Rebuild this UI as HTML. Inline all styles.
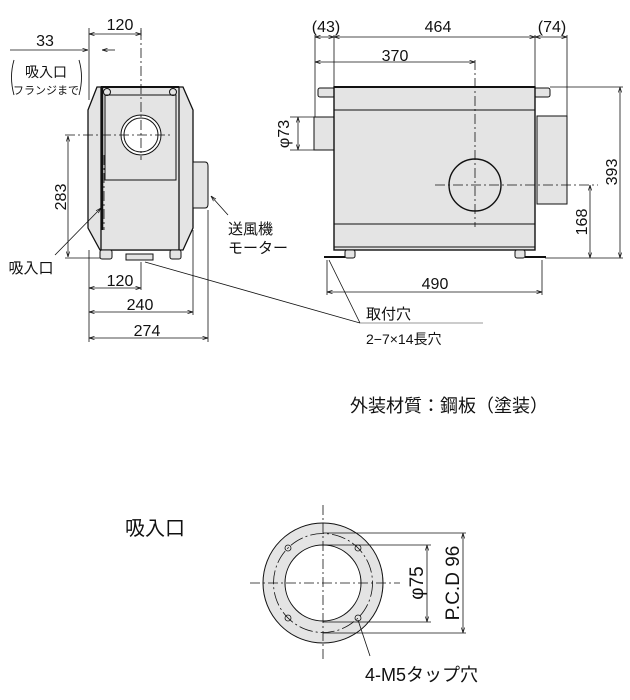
<!DOCTYPE html>
<html><head><meta charset="utf-8"><style>
html,body{margin:0;padding:0;background:#fff;}
svg{display:block;}
text{font-family:"Liberation Sans","Noto Sans CJK JP",sans-serif;fill:#111;}
</style></head><body>
<svg width="630" height="700" viewBox="0 0 630 700" xmlns="http://www.w3.org/2000/svg">
<defs>
<marker id="a" viewBox="0 0 10 10" refX="10" refY="5" markerWidth="7" markerHeight="7" orient="auto-start-reverse"><path d="M0,2 L10,5 L0,8" fill="none" stroke="#111" stroke-width="1.2"/></marker>
</defs>
<g stroke="#111" stroke-width="1" fill="none">
<path d="M97,87 L183,87 L193,110 L193,228 L183,250 L100,250 L88,228 L88,110 Z" fill="#e4e4e4" stroke-width="1.3"/>
<path d="M193,162 L205,162 Q208,162 208,166 L208,204 Q208,208 205,208 L193,208 Z" fill="#e4e4e4"/>
<rect x="101" y="87" width="78" height="163" fill="#e4e4e4" stroke-width="1.3"/>
<rect x="105" y="95" width="71" height="85"/>
<line x1="102" y1="87" x2="102" y2="230" stroke-width="2.5"/>
<line x1="101" y1="87" x2="179" y2="87" stroke-width="2"/>
<circle cx="107" cy="92" r="3.5"/><circle cx="173" cy="92" r="3.5"/>
<circle cx="141" cy="135" r="20" fill="#fff"/><circle cx="141" cy="135" r="17"/>
<rect x="100" y="250" width="12" height="9" rx="2" fill="#e4e4e4"/>
<rect x="170" y="250" width="11" height="9" rx="2" fill="#e4e4e4"/>
<rect x="126" y="254" width="27" height="6" fill="#e4e4e4"/>
<g stroke-width="0.8" stroke-dasharray="10,3,2,3">
<line x1="141" y1="30" x2="141" y2="160"/><line x1="65" y1="135" x2="170" y2="135"/>
<line x1="104" y1="155" x2="104" y2="230"/>
</g>
<g stroke-width="0.8">
<line x1="89" y1="28" x2="89" y2="100"/><line x1="141" y1="28" x2="141" y2="36"/>
<line x1="89" y1="34" x2="141" y2="34" marker-start="url(#a)" marker-end="url(#a)"/>
<line x1="10" y1="50" x2="88" y2="50" marker-end="url(#a)"/>
<line x1="115" y1="50" x2="102" y2="50" marker-end="url(#a)"/>
<line x1="68" y1="136" x2="68" y2="257" marker-start="url(#a)" marker-end="url(#a)"/>
<line x1="65" y1="258" x2="100" y2="258"/>
<line x1="89" y1="250" x2="89" y2="342"/><line x1="141" y1="262" x2="141" y2="290"/>
<line x1="193" y1="230" x2="193" y2="315"/><line x1="208" y1="210" x2="208" y2="342"/>
<line x1="89" y1="288" x2="141" y2="288" marker-start="url(#a)" marker-end="url(#a)"/>
<line x1="89" y1="312" x2="193" y2="312" marker-start="url(#a)" marker-end="url(#a)"/>
<line x1="89" y1="338" x2="208" y2="338" marker-start="url(#a)" marker-end="url(#a)"/>
<line x1="55" y1="255" x2="101" y2="208" marker-end="url(#a)"/>
<line x1="228" y1="215" x2="211" y2="196" marker-end="url(#a)"/>
<line x1="145" y1="262" x2="360" y2="323"/>
<line x1="329" y1="260" x2="360" y2="323"/>
<line x1="360" y1="323" x2="483" y2="323" stroke="#777"/>
</g>
<path d="M14,60 Q9,77 14,95" stroke-width="0.9"/><path d="M79,60 Q84,77 79,95" stroke-width="0.9"/>
<rect x="318" y="88" width="17" height="9" rx="2" fill="#e4e4e4"/>
<rect x="534" y="88" width="16" height="9" rx="2" fill="#e4e4e4"/>
<rect x="314" y="117" width="20" height="33" fill="#e4e4e4"/>
<rect x="537" y="116" width="30" height="88" fill="#e4e4e4"/>
<rect x="334" y="87" width="201" height="163" fill="#e4e4e4" stroke-width="1.4"/>
<line x1="334" y1="87" x2="535" y2="87" stroke-width="2"/>
<line x1="334" y1="110" x2="535" y2="110"/>
<line x1="334" y1="224" x2="535" y2="224"/>
<line x1="334" y1="247" x2="535" y2="247"/>
<circle cx="475" cy="185" r="26" stroke-width="1.4"/>
<rect x="345" y="250" width="10" height="8" rx="2" fill="#e4e4e4"/>
<rect x="515" y="250" width="10" height="8" rx="2" fill="#e4e4e4"/>
<line x1="324" y1="257" x2="345" y2="257" stroke-width="2"/>
<line x1="525" y1="257" x2="546" y2="257" stroke-width="2"/>
<g stroke-width="0.8" stroke-dasharray="10,3,2,3">
<line x1="475" y1="60" x2="475" y2="227"/><line x1="435" y1="185" x2="598" y2="185"/>
</g>
<g stroke-width="0.8">
<line x1="315" y1="35" x2="315" y2="117"/><line x1="334" y1="35" x2="334" y2="87"/>
<line x1="535" y1="35" x2="535" y2="87"/><line x1="567" y1="35" x2="567" y2="116"/>
<line x1="315" y1="37" x2="334" y2="37" marker-start="url(#a)" marker-end="url(#a)"/>
<line x1="334" y1="37" x2="535" y2="37" marker-start="url(#a)" marker-end="url(#a)"/>
<line x1="535" y1="37" x2="567" y2="37" marker-start="url(#a)" marker-end="url(#a)"/>
<line x1="315" y1="62" x2="475" y2="62" marker-start="url(#a)" marker-end="url(#a)"/>
<line x1="290" y1="117" x2="314" y2="117"/><line x1="290" y1="150" x2="314" y2="150"/>
<line x1="298" y1="117" x2="298" y2="150" marker-start="url(#a)" marker-end="url(#a)"/>
<line x1="550" y1="87" x2="623" y2="87"/><line x1="545" y1="258" x2="623" y2="258"/>
<line x1="620" y1="87" x2="620" y2="258" marker-start="url(#a)" marker-end="url(#a)"/>
<line x1="590" y1="185" x2="590" y2="258" marker-start="url(#a)" marker-end="url(#a)"/>
<line x1="327" y1="260" x2="327" y2="295"/><line x1="542" y1="260" x2="542" y2="295"/>
<line x1="327" y1="292" x2="542" y2="292" marker-start="url(#a)" marker-end="url(#a)"/>
</g>
<circle cx="323" cy="583" r="60" fill="#e4e4e4"/>
<circle cx="323" cy="583" r="38" fill="#fff"/>
<circle cx="323" cy="583" r="49.5" stroke-width="0.8" stroke-dasharray="14,3,2,3"/>
<g stroke-width="0.8">
<circle cx="288" cy="548" r="3"/><circle cx="358" cy="548" r="3"/>
<circle cx="288" cy="618" r="3"/><circle cx="358" cy="618" r="3"/>
<line x1="323" y1="505" x2="323" y2="662" stroke-dasharray="10,3,2,3"/>
<line x1="250" y1="583" x2="400" y2="583" stroke-dasharray="10,3,2,3"/>
<line x1="323" y1="533" x2="466" y2="533"/><line x1="323" y1="633" x2="466" y2="633"/>
<line x1="323" y1="545" x2="431" y2="545"/><line x1="323" y1="622" x2="431" y2="622"/>
<line x1="427" y1="545" x2="427" y2="622" marker-start="url(#a)" marker-end="url(#a)"/>
<line x1="463" y1="533" x2="463" y2="633" marker-start="url(#a)" marker-end="url(#a)"/>
<line x1="358" y1="620" x2="370" y2="656"/>
</g>
</g>
<g font-size="16" text-anchor="middle">
<text x="120" y="30">120</text>
<text x="45" y="46">33</text>
<text x="46" y="77" font-size="14">吸入口</text>
<text x="46" y="94" font-size="11">フランジまで</text>
<text x="31" y="273" font-size="15">吸入口</text>
<text x="120" y="286">120</text>
<text x="140" y="310">240</text>
<text x="147" y="336">274</text>
<text x="228" y="234" font-size="15" text-anchor="start">送風機</text>
<text x="228" y="253" font-size="15" text-anchor="start">モーター</text>
<text transform="translate(66,197) rotate(-90)">283</text>
<text x="326" y="32">(43)</text>
<text x="438" y="32">464</text>
<text x="552" y="32">(74)</text>
<text x="395" y="61">370</text>
<text transform="translate(289,134) rotate(-90)">φ73</text>
<text transform="translate(617,172) rotate(-90)">393</text>
<text transform="translate(587,222) rotate(-90)">168</text>
<text x="435" y="289">490</text>
<text x="366" y="319" font-size="15" text-anchor="start">取付穴</text>
<text x="366" y="344" font-size="14" text-anchor="start">2−7×14長穴</text>
<text x="350" y="412" font-size="18" text-anchor="start">外装材質：鋼板（塗装）</text>
<text x="125" y="535" font-size="20" text-anchor="start">吸入口</text>
<text transform="translate(423,583) rotate(-90)" font-size="19">φ75</text>
<text transform="translate(459,583) rotate(-90)" font-size="19">P.C.D 96</text>
<text x="365" y="681" font-size="18" text-anchor="start">4-M5タップ穴</text>
</g>
</svg>
</body></html>
